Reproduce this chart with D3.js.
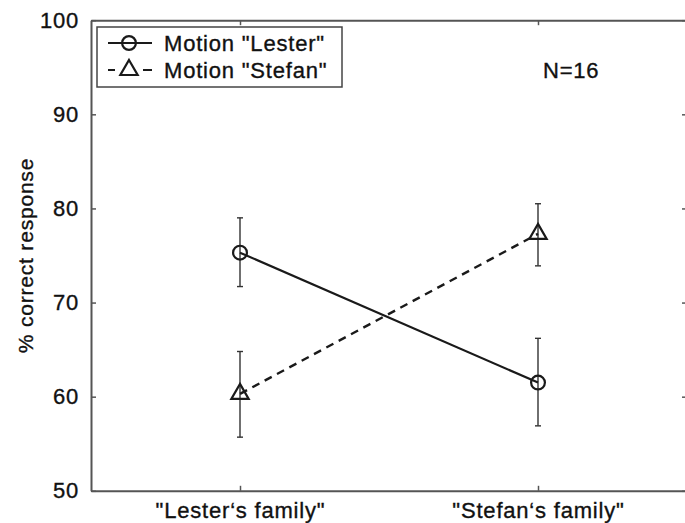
<!DOCTYPE html>
<html>
<head>
<meta charset="utf-8">
<script src="https://cdn.jsdelivr.net/npm/d3@7"></script>
<style>
  html, body { margin: 0; padding: 0; background: #fff; }
  svg { display: block; }
  text { font-family: "Liberation Sans", Arial, Helvetica, sans-serif; fill: #111; stroke: #111; stroke-width: 0.35px; }
</style>
</head>
<body>
<svg id="chart" width="685" height="523"></svg>
<script>
// Conditions on the x axis
const categories = ['"Lester\u2018s family"', '"Stefan\u2018s family"'];
// Mean % correct response per motion type, with lower / upper error bar ends
const lesterMean  = [75.3, 61.5];
const lesterLow   = [71.7, 56.9];
const lesterHigh  = [79.0, 66.2];
const stefanMean  = [60.3, 77.3];
const stefanLow   = [55.7, 73.9];
const stefanHigh  = [64.8, 80.5];
const seriesNames = ['Motion "Lester"', 'Motion "Stefan"'];
const yTicks = [50, 60, 70, 80, 90, 100];

const svg = d3.select("#chart");
const plotLeft = 91, plotRight = 687, plotTop = 20.2, plotBottom = 490.8;

const x = d3.scaleLinear().domain([0.5, 2.5]).range([plotLeft, plotRight]);
const y = d3.scaleLinear().domain([50, 100]).range([plotBottom, plotTop]);
const xPos = i => x(i + 1);

const axisColor = "#555";
const ink = "#1a1a1a";
const fontSize = 22;
const spacing = "0.8px";

// Axes box with inward ticks on every side
const axisG = svg.append("g");
const axL = d3.axisLeft(y).tickValues(yTicks).tickSizeInner(-5).tickSizeOuter(0).tickFormat(d3.format("d")).tickPadding(12);
const axR = d3.axisRight(y).tickValues(yTicks).tickSizeInner(-5).tickSizeOuter(0).tickFormat("");
const axB = d3.axisBottom(x).tickValues([1, 2]).tickSizeInner(-5).tickSizeOuter(0)
  .tickFormat(d => categories[d - 1]).tickPadding(12);
const axT = d3.axisTop(x).tickValues([1, 2]).tickSizeInner(-5).tickSizeOuter(0).tickFormat("");

function styleAxis(g) {
  g.select(".domain").attr("stroke", axisColor).attr("stroke-width", 2);
  g.selectAll(".tick line").attr("stroke", axisColor).attr("stroke-width", 1.5);
  g.selectAll(".tick text")
    .attr("fill", "#111")
    .attr("stroke", "#111")
    .attr("stroke-width", 0.35)
    .style("font-size", fontSize + "px")
    .style("letter-spacing", spacing)
    .style("font-family", '"Liberation Sans", Arial, Helvetica, sans-serif');
}
axisG.append("g").attr("transform", `translate(${plotLeft},0)`).call(axL).call(styleAxis);
axisG.append("g").attr("transform", `translate(${plotRight},0)`).call(axR).call(styleAxis);
axisG.append("g").attr("transform", `translate(0,${plotBottom})`).call(axB).call(styleAxis);
axisG.append("g").attr("transform", `translate(0,${plotTop})`).call(axT).call(styleAxis);

// Y axis title
svg.append("text")
  .attr("transform", `translate(33,${(plotTop + plotBottom) / 2}) rotate(-90)`)
  .attr("text-anchor", "middle")
  .style("font-size", "21px")
  .style("letter-spacing", spacing)
  .text("% correct response");

// Error bars
const capW = 6;
function errorBars(mean, low, high) {
  const g = svg.append("g").attr("stroke", "#333").attr("stroke-width", 1.4).attr("fill", "none");
  mean.forEach((m, i) => {
    const cx = xPos(i);
    g.append("line").attr("x1", cx).attr("x2", cx).attr("y1", y(low[i])).attr("y2", y(high[i]));
    g.append("line").attr("x1", cx - capW / 2).attr("x2", cx + capW / 2).attr("y1", y(low[i])).attr("y2", y(low[i]));
    g.append("line").attr("x1", cx - capW / 2).attr("x2", cx + capW / 2).attr("y1", y(high[i])).attr("y2", y(high[i]));
  });
}
errorBars(lesterMean, lesterLow, lesterHigh);
errorBars(stefanMean, stefanLow, stefanHigh);

// Series lines
const line = d3.line().x((d, i) => xPos(i)).y(d => y(d));
svg.append("path").datum(lesterMean).attr("d", line)
  .attr("fill", "none").attr("stroke", ink).attr("stroke-width", 2.2);
svg.append("path").datum(stefanMean).attr("d", line)
  .attr("fill", "none").attr("stroke", ink).attr("stroke-width", 2.4).attr("stroke-dasharray", "8,6");

// Markers
const circleSym = d3.symbol().type(d3.symbolCircle).size(150);
const triSym = d3.symbol().type(d3.symbolTriangle).size(130);
function drawMarkers(data, sym) {
  svg.append("g").selectAll("path").data(data).join("path")
    .attr("transform", (d, i) => `translate(${xPos(i)},${y(d)})`)
    .attr("d", sym)
    .attr("fill", "none").attr("stroke", ink).attr("stroke-width", 2.2);
}
drawMarkers(lesterMean, circleSym);
drawMarkers(stefanMean, triSym);

// Legend
const leg = svg.append("g");
leg.append("rect").attr("x", 97).attr("y", 27).attr("width", 245).attr("height", 60)
  .attr("fill", "#fff").attr("stroke", "#444").attr("stroke-width", 1.5);
const rows = [43, 70];
leg.append("line").attr("x1", 108).attr("x2", 152).attr("y1", rows[0]).attr("y2", rows[0])
  .attr("stroke", ink).attr("stroke-width", 2);
leg.append("path").attr("transform", `translate(129,${rows[0]})`).attr("d", circleSym)
  .attr("fill", "none").attr("stroke", ink).attr("stroke-width", 2.2);
leg.append("line").attr("x1", 108).attr("x2", 152).attr("y1", rows[1]).attr("y2", rows[1])
  .attr("stroke", ink).attr("stroke-width", 2).attr("stroke-dasharray", "7,28");
leg.append("line").attr("x1", 145).attr("x2", 152).attr("y1", rows[1]).attr("y2", rows[1])
  .attr("stroke", ink).attr("stroke-width", 2);
leg.append("path").attr("transform", `translate(129,${rows[1]})`).attr("d", triSym)
  .attr("fill", "none").attr("stroke", ink).attr("stroke-width", 2.2);
seriesNames.forEach((name, i) => {
  leg.append("text").attr("x", 164).attr("y", rows[i] + 8)
    .style("font-size", fontSize + "px").style("letter-spacing", spacing)
    .text(name);
});

// Sample size note
svg.append("text").attr("x", 543).attr("y", 78)
  .style("font-size", fontSize + "px").style("letter-spacing", spacing)
  .text("N=16");
</script>
</body>
</html>
